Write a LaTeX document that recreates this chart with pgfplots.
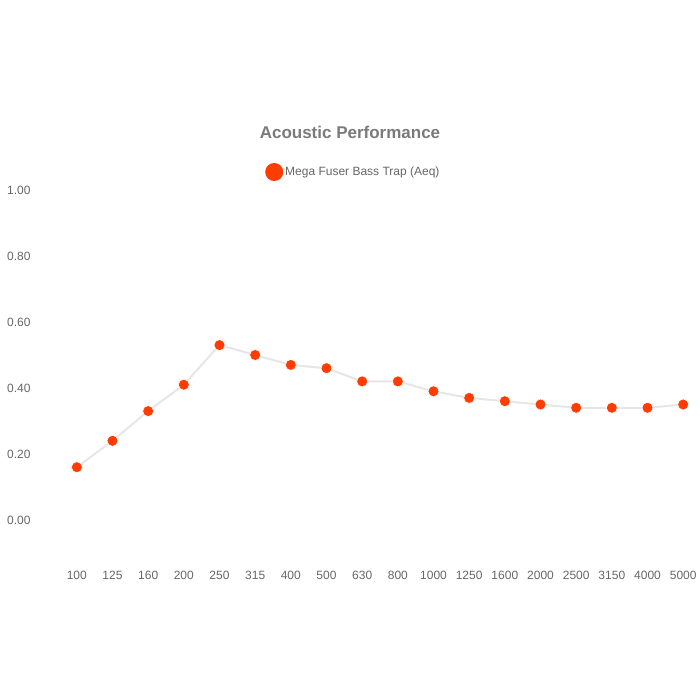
\documentclass[border=0pt]{standalone}
\usepackage{pgfplots}
\pgfplotsset{compat=1.18}
\usepackage{fontspec}
\setmainfont{Liberation Sans}
\definecolor{dotred}{HTML}{FF3D00}
\definecolor{linegray}{HTML}{E6E6E6}
\definecolor{titlegray}{HTML}{7A7A7A}
\definecolor{labelgray}{HTML}{666666}
\begin{document}
\begin{tikzpicture}[x=1pt,y=1pt]
\path[use as bounding box] (-59,-147) rectangle (641,553);
\begin{axis}[
  at={(0,0)}, anchor=south west,
  scale only axis, width=642pt, height=363pt,
  xmin=-0.5, xmax=17.5, ymin=-0.1, ymax=1.0,
  axis line style={draw=none},
  tick style={draw=none},
  xtick={0,...,17},
  xticklabels={100,125,160,200,250,315,400,500,630,800,1000,1250,1600,2000,2500,3150,4000,5000},
  ytick={0,0.2,0.4,0.6,0.8,1.0},
  yticklabel style={/pgf/number format/fixed,/pgf/number format/fixed zerofill,/pgf/number format/precision=2,/pgf/number format/assume math mode=true},
  yticklabel style={font=\fontsize{12}{14}\selectfont, text=labelgray, xshift=-25pt},
  xticklabel style={font=\fontsize{12}{14}\selectfont, text=labelgray, yshift=-15pt},
  legend style={at={(axis description cs:0.4585,1.0496)}, anchor=center, draw=none, fill=none,
    font=\fontsize{12}{14}\selectfont, text=labelgray},
  legend image code/.code={\fill[dotred] (-0.1em,0) circle (8pt);},
  clip=false,
]
\addplot[linegray, line width=2pt, mark=*, mark size=5.5pt, mark options={fill=dotred, draw=white, line width=0.6pt}]
coordinates {
(0,0.16) (1,0.24) (2,0.33) (3,0.41) (4,0.53) (5,0.50) (6,0.47) (7,0.46) (8,0.42)
(9,0.42) (10,0.39) (11,0.37) (12,0.36) (13,0.35) (14,0.34) (15,0.34) (16,0.34) (17,0.35)
};
\addlegendentry{Mega Fuser Bass Trap (Aeq)}
\end{axis}
\node[font=\bfseries\fontsize{17}{20}\selectfont, text=titlegray] at (291,421) {Acoustic Performance};
\end{tikzpicture}
\end{document}
